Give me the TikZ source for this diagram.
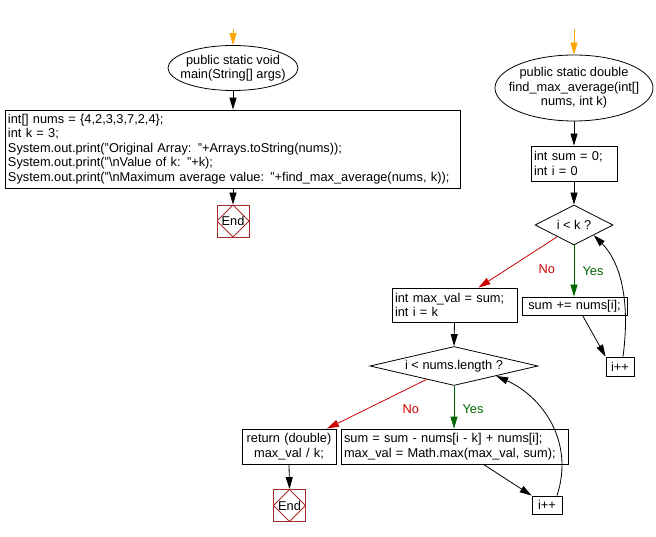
\documentclass[tikz,border=0pt]{standalone}
\usepackage{fontspec}
\setmainfont{Liberation Sans}
\usepackage{xcolor}
\definecolor{StartOrange}{HTML}{FFA500}
\definecolor{NoRed}{HTML}{CC0000}
\definecolor{YesGreen}{HTML}{006600}
\definecolor{EndBrown}{HTML}{A52A2A}
\usetikzlibrary{shapes.geometric, arrows.meta, calc}
\newcommand{\codefont}{\fontsize{12.8}{14.6}\selectfont}

\begin{document}
\begin{tikzpicture}[
  x=1pt, y=-1pt,
  % Grundstile
  startnode/.style={
    ellipse,
    draw,
    line width=0.8pt,
    inner sep=0pt
  },
  startlbl/.style={
    font=\codefont,
    align=center
  },
  procbox/.style={
    rectangle,
    draw,
    line width=0.8pt,
    inner xsep=3pt,
    inner ysep=0pt,
    font=\codefont
  },
  decision/.style={
    diamond,
    draw,
    aspect=2,
    line width=0.8pt,
    inner sep=0pt,
    font=\codefont
  },
  endnode/.style={
    rectangle,
    draw=EndBrown,
    line width=0.8pt,
    minimum size=32pt,
    inner sep=0pt,
    font=\codefont,
    path picture={
      \draw[EndBrown, line width=0.8pt] (path picture bounding box.north) -- (path picture bounding box.east)
        -- (path picture bounding box.south) -- (path picture bounding box.west) -- cycle;
    }
  },
  flowarrow/.style={
    draw,
    line width=0.8pt,
    -{Triangle[length=12pt, width=7pt]}
  },
  startarrow/.style={flowarrow, draw=StartOrange},
  yesarrow/.style={flowarrow, draw=YesGreen},
  noarrow/.style={flowarrow, draw=NoRed},
  yeslbl/.style={font=\codefont, text=YesGreen},
  nolbl/.style={font=\codefont, text=NoRed}
]

% =============================================================================
% HINTERGRUND
% =============================================================================
\fill[white] (0,0) rectangle (656,537);

% =============================================================================
% LINKS: main
% =============================================================================
\coordinate (in1) at (233,29);
\node[startnode, minimum width=130pt, minimum height=45pt,
      label={[startlbl, name=mainlbl]center:public static void\\main(String[] args)}] (main) at (233,68) {};
\node[procbox, text width=449pt, minimum height=78pt, align=left] (mainbody) at (232.5,149) {
  int[] nums = \{4,2,3,3,7,2,4\};\\
  int k = 3;\\
  System.out.print("Original Array: "+Arrays.toString(nums));\\
  System.out.print("\textbackslash nValue of k: "+k);\\
  System.out.print("\textbackslash nMaximum average value: "+find\_max\_average(nums, k));};
\node[endnode] (end1) at (233,221) {End};

\draw[startarrow] (in1) -- (main.north);
\draw[flowarrow] (main.south) -- (main.south |- mainbody.north);
\draw[flowarrow] (end1.north |- mainbody.south) -- (end1.north);

% =============================================================================
% RECHTS: find_max_average
% =============================================================================
\coordinate (in2) at (574,29);
\node[startnode, minimum width=158pt, minimum height=66pt,
      label={[startlbl, name=fmalbl]center:public static double\\find\_max\_average(int[]\\nums, int k)}] (fma) at (574,88) {};
\node[procbox, text width=80pt, minimum height=35pt, align=left] (init2) at (574,163.5) {int sum = 0;\\int i = 0};
\node[decision, minimum width=78pt, minimum height=40pt] (cond1) at (574,225) {i < k ?};
\node[procbox, text width=99pt, minimum height=18pt, align=center] (addsum) at (574.5,306) {sum += nums[i];};
\node[procbox, minimum width=28pt, minimum height=19pt] (inc1) at (620,366.5) {i++};
\node[procbox, text width=119pt, minimum height=34pt, align=left] (init3) at (454.5,305) {int max\_val = sum;\\int i = k};

% Schleife 1
\draw[startarrow] (in2) -- (fma.north);
\draw[flowarrow] (fma.south) -- (init2.north);
\draw[flowarrow] (init2.south) -- (cond1.north);
\draw[yesarrow] (cond1.south) -- (cond1.south |- addsum.north) node[yeslbl, midway, xshift=19pt] (yes1) {Yes};
\draw[noarrow] ($(cond1.south west)!0.15!(cond1.south)$) -- ([xshift=24pt]init3.north)
  node[nolbl, midway, xshift=29pt, yshift=-7pt] (no1) {No};
\draw[flowarrow] ([xshift=8pt]addsum.south) -- (inc1.north west);
\draw[flowarrow] ([xshift=3pt]inc1.north) .. controls +(8,-60) and +(25,25) .. (cond1.south east);

% Schleife 2
\node[decision, aspect=4.5, minimum width=168pt, minimum height=39pt] (cond2) at (454,366) {i < nums.length ?};
\node[procbox, text width=88pt, minimum height=35pt, align=center] (ret) at (289,446.5) {return (double)\\max\_val / k;};
\node[procbox, text width=221pt, minimum height=35pt, align=left] (slide) at (454.5,446.5) {sum = sum - nums[i - k] + nums[i];\\max\_val = Math.max(max\_val, sum);};
\node[procbox, minimum width=30pt, minimum height=18pt] (inc2) at (547,505) {i++};
\node[endnode] (end2) at (289.5,505.5) {End};

\draw[flowarrow] (init3.south) -- (cond2.north);
\draw[yesarrow] (cond2.south) -- (cond2.south |- slide.north) node[yeslbl, midway, xshift=19pt, yshift=-2pt] (yes2) {Yes};
\draw[noarrow] ($(cond2.south west)!0.35!(cond2.south)$) -- ([xshift=38pt]ret.north)
  node[nolbl, midway, xshift=34pt, yshift=-5pt] (no2) {No};
\draw[flowarrow] (ret.south) -- (end2.north);
\draw[flowarrow] ([xshift=29pt]slide.south) -- (inc2.north west);
\draw[flowarrow] ([xshift=10pt]inc2.north) .. controls +(18,-55) and +(45,20) .. (cond2.south east);

\end{tikzpicture}
\end{document}
